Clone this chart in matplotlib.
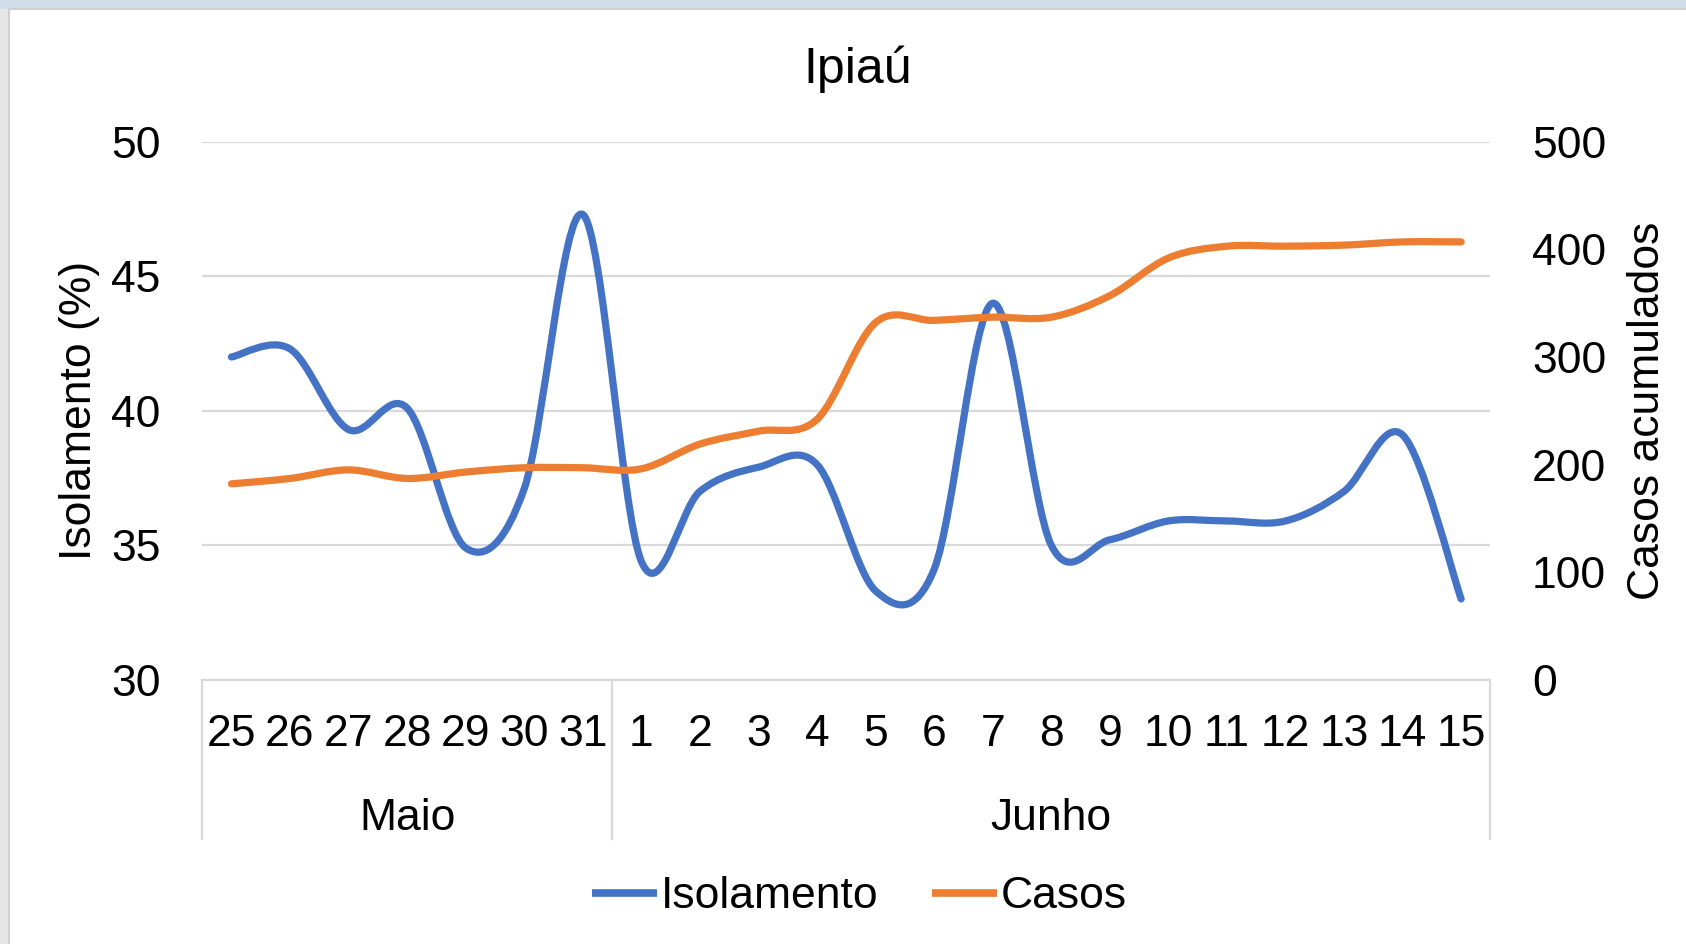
import matplotlib
matplotlib.use("Agg")
import matplotlib.pyplot as plt
from matplotlib.path import Path
from matplotlib.patches import PathPatch, Rectangle
from matplotlib.lines import Line2D
import matplotlib.transforms as mtransforms

plt.rcParams["font.family"] = ["Liberation Sans", "DejaVu Sans"]

# data
dias = ["25", "26", "27", "28", "29", "30", "31",
        "1", "2", "3", "4", "5", "6", "7", "8", "9", "10", "11", "12", "13", "14", "15"]
meses = ["Maio", "Junho"]
dias_por_mes = [7, 15]
isolamento = [42.0, 42.3, 39.3, 40.1, 34.9, 37.1, 47.3,
              34.4, 37.0, 37.9, 38.0, 33.3, 34.1, 44.0, 35.0, 35.2,
              35.9, 35.9, 35.9, 37.0, 39.1, 33.0]
casos = [182, 187, 195, 187, 193, 197, 197,
         196, 219, 231, 242, 332, 334, 337, 337, 357,
         392, 403, 403, 404, 407, 407]

AZUL = "#4472C4"
LARANJA = "#ED7D31"
GRADE = "#d9d9d9"
FS = 32


def smooth_path(xs, ys):
    # excel-like smoothed line: cubic bezier segments (catmull-rom control points)
    n = len(xs)
    verts = [(xs[0], ys[0])]
    codes = [Path.MOVETO]
    for i in range(n - 1):
        x0, y0 = (xs[i - 1], ys[i - 1]) if i > 0 else (xs[i], ys[i])
        x1, y1 = xs[i], ys[i]
        x2, y2 = xs[i + 1], ys[i + 1]
        x3, y3 = (xs[i + 2], ys[i + 2]) if i + 2 < n else (x2, y2)
        c1 = (x1 + (x2 - x0) / 6, y1 + (y2 - y0) / 6)
        c2 = (x2 - (x3 - x1) / 6, y2 - (y3 - y1) / 6)
        verts += [c1, c2, (x2, y2)]
        codes += [Path.CURVE4] * 3
    return Path(verts, codes)


fig = plt.figure(figsize=(16.86, 9.44), dpi=100)
fig.patch.set_facecolor("white")

# window frame around the chart
fig.patches.append(Rectangle((0, 0.99), 1, 0.01, transform=fig.transFigure,
                             facecolor="#cfdde8", edgecolor="none", zorder=-5))
fig.patches.append(Rectangle((0, 0), 0.0055, 0.99, transform=fig.transFigure,
                             facecolor="#e6e6e6", edgecolor="none", zorder=-5))
fig.patches.append(Rectangle((0.0055, -0.01), 1, 1.0, transform=fig.transFigure,
                             facecolor="white", edgecolor="#d0d0d0", lw=1.5, zorder=-5))

ax = fig.add_axes([0.1199, 0.2801, 0.7641, 0.5696])
ax2 = ax.twinx()
ax.patch.set_visible(False)
ax2.patch.set_visible(False)

x = list(range(len(dias)))

ax.add_patch(PathPatch(smooth_path(x, isolamento), facecolor="none",
                       edgecolor=AZUL, lw=5.2, capstyle="round", joinstyle="round"))
ax2.add_patch(PathPatch(smooth_path(x, casos), facecolor="none",
                        edgecolor=LARANJA, lw=5.2, capstyle="round", joinstyle="round"))

ax.set_xlim(-0.5, len(dias) - 0.5)
ax.set_ylim(30, 50)
ax.set_yticks([30, 35, 40, 45, 50])
ax2.set_ylim(0, 500)
ax2.set_yticks([0, 100, 200, 300, 400, 500])

ax.grid(axis="y", color=GRADE, lw=1.6)
ax.set_axisbelow(True)
for a in (ax, ax2):
    for s in a.spines.values():
        s.set_visible(False)
ax.spines["bottom"].set_visible(True)
ax.spines["bottom"].set_color(GRADE)
ax.spines["bottom"].set_linewidth(1.6)

ax.set_xticks(x)
ax.set_xticklabels(dias)
ax.tick_params(axis="x", length=0, pad=25, labelsize=FS)
ax.tick_params(axis="y", length=0, pad=30, labelsize=FS)
ax2.tick_params(axis="y", length=0, pad=30, labelsize=FS)

# month separators and labels below the day labels
trans = mtransforms.blended_transform_factory(ax.transData, ax.transAxes)
limite = -0.5
for mes, n in zip(meses, dias_por_mes):
    ax.add_line(Line2D([limite, limite], [0, -0.296], transform=trans,
                       color=GRADE, lw=1.6, clip_on=False))
    ax.text(limite + n / 2, -0.258, mes, transform=trans, ha="center",
            va="center", fontsize=FS)
    limite += n
ax.add_line(Line2D([limite, limite], [0, -0.296], transform=trans,
                   color=GRADE, lw=1.6, clip_on=False))

ax.set_ylabel("Isolamento (%)", fontsize=FS)
ax.yaxis.set_label_coords(-0.079, 0.5)
ax2.set_ylabel("Casos acumulados", fontsize=FS)
ax2.yaxis.set_label_coords(1.106, 0.5)

fig.text(0.509, 0.927, "Ipiaú", ha="center", va="center", fontsize=36)

handles = [Line2D([], [], color=AZUL, lw=5.5, solid_capstyle="butt"),
           Line2D([], [], color=LARANJA, lw=5.5, solid_capstyle="butt")]
fig.legend(handles, ["Isolamento", "Casos"], loc="center", ncol=2,
           bbox_to_anchor=(0.51, 0.05), frameon=False, fontsize=FS,
           handlelength=1.45, handletextpad=0.1, columnspacing=1.2)

fig.savefig("out.png", dpi=100)
